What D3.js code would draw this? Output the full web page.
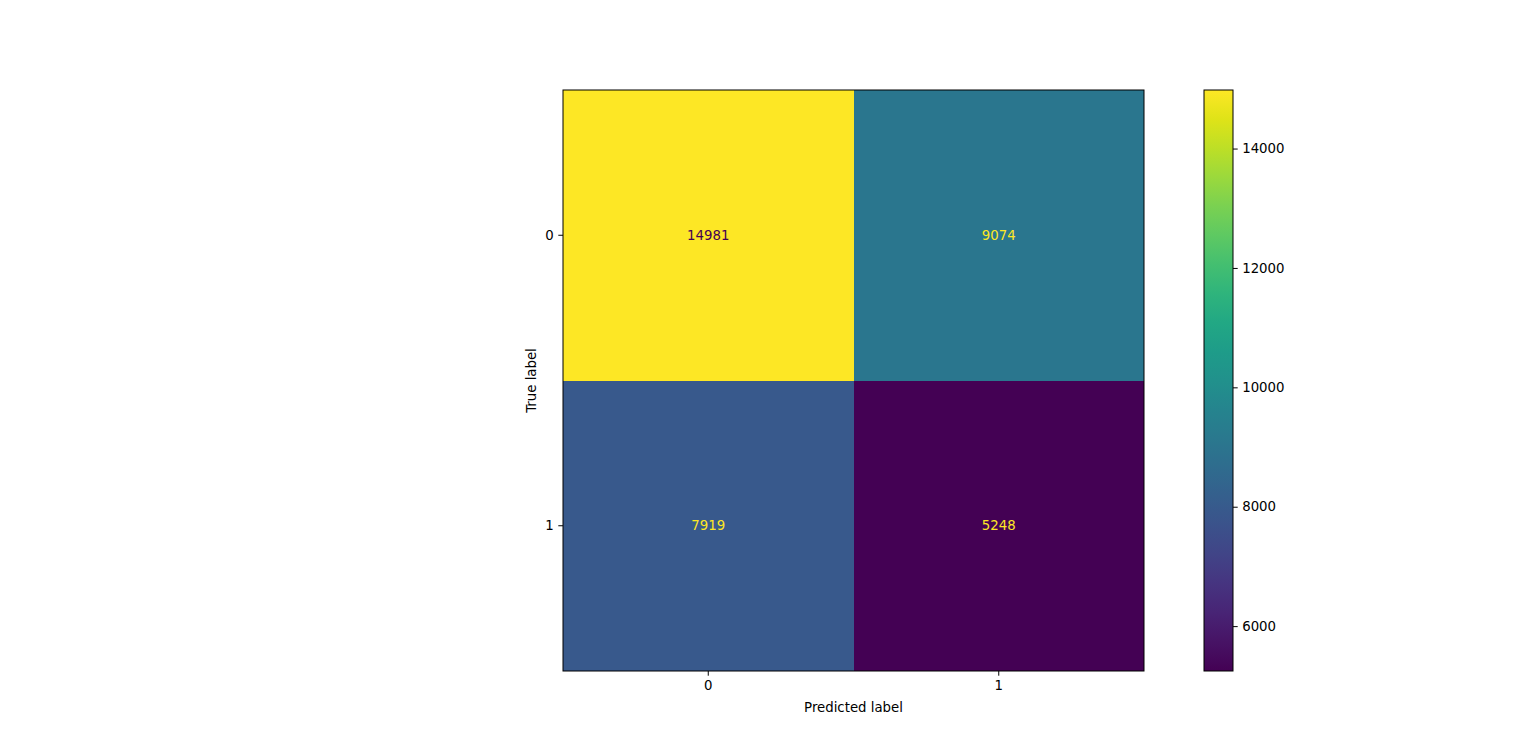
<!DOCTYPE html>
<html lang="en">
<head>
<meta charset="utf-8" />
<title>Confusion matrix</title>
<style>
  body, html { margin: 0; padding: 0; background: #ffffff; }
  text { font-family: "DejaVu Sans", sans-serif; font-size: 13.3px; fill: #000; }
  .axis path, .axis line { stroke: #000; stroke-width: 1; }
  .cell { shape-rendering: crispEdges; }
</style>
<script src="https://d3js.org/d3.v7.min.js"></script>
</head>
<body>
<svg width="1536" height="754"></svg>
<script>
// data
var labels = ["0", "1"];
var matrix = [
  [14981, 9074],
  [7919, 5248]
];
var cbTicks = [6000, 8000, 10000, 12000, 14000];

var svg = d3.select("svg");

// plot area (note: "top" clashes with window.top, so use plotTop)
var plotLeft = 563, plotTop = 90, size = 581;
var cbLeft = 1204, cbWidth = 29;

var x = d3.scaleBand().domain(labels).range([plotLeft, plotLeft + size]);
var y = d3.scaleBand().domain(labels).range([plotTop, plotTop + size]);

var flat = [];
matrix.forEach(function(row, i) {
  row.forEach(function(v, j) { flat.push({ r: labels[i], c: labels[j], v: v }); });
});
var vmin = d3.min(flat, function(d) { return d.v; });
var vmax = d3.max(flat, function(d) { return d.v; });
var color = d3.scaleSequential(d3.interpolateViridis).domain([vmin, vmax]);
var mid = (vmin + vmax) / 2;

svg.selectAll(".cell")
  .data(flat)
  .enter().append("rect")
  .attr("class", "cell")
  .attr("x", function(d) { return x(d.c); })
  .attr("y", function(d) { return y(d.r); })
  .attr("width", x.bandwidth())
  .attr("height", y.bandwidth())
  .attr("fill", function(d) { return color(d.v); });

svg.selectAll(".val")
  .data(flat)
  .enter().append("text")
  .attr("class", "val")
  .attr("x", function(d) { return x(d.c) + x.bandwidth() / 2; })
  .attr("y", function(d) { return y(d.r) + y.bandwidth() / 2; })
  .attr("text-anchor", "middle")
  .attr("dy", "0.35em")
  .style("fill", function(d) { return d.v < mid ? d3.interpolateViridis(1) : d3.interpolateViridis(0); })
  .text(function(d) { return d.v; });

svg.append("rect")
  .attr("x", plotLeft).attr("y", plotTop)
  .attr("width", size).attr("height", size)
  .attr("fill", "none").attr("stroke", "#000").attr("stroke-width", 1);

// axes
var xAxis = svg.append("g").attr("class", "axis")
  .attr("transform", "translate(0," + (plotTop + size) + ")")
  .call(d3.axisBottom(x).tickSize(4.7).tickPadding(4.5));
xAxis.select(".domain").remove();
xAxis.selectAll("text").style("font-size", "13.3px").style("font-family", "DejaVu Sans");

var yAxis = svg.append("g").attr("class", "axis")
  .attr("transform", "translate(" + plotLeft + ",0)")
  .call(d3.axisLeft(y).tickSize(4.7).tickPadding(4.5));
yAxis.select(".domain").remove();
yAxis.selectAll("text").style("font-size", "13.3px").style("font-family", "DejaVu Sans");

svg.append("text")
  .attr("x", plotLeft + size / 2).attr("y", 712)
  .attr("text-anchor", "middle")
  .text("Predicted label");

svg.append("text")
  .attr("transform", "translate(536," + (plotTop + size / 2) + ") rotate(-90)")
  .attr("text-anchor", "middle")
  .text("True label");

// colorbar
var cb = d3.scaleLinear().domain([vmin, vmax]).range([plotTop + size, plotTop]);
var defs = svg.append("defs");
var grad = defs.append("linearGradient").attr("id", "cbg")
  .attr("x1", "0").attr("y1", "1").attr("x2", "0").attr("y2", "0");
d3.range(0, 1.0001, 0.05).forEach(function(t) {
  grad.append("stop").attr("offset", t).attr("stop-color", d3.interpolateViridis(t));
});
svg.append("rect")
  .attr("x", cbLeft).attr("y", plotTop)
  .attr("width", cbWidth).attr("height", size)
  .attr("fill", "url(#cbg)")
  .attr("stroke", "#000").attr("stroke-width", 1);

var cbAxis = svg.append("g").attr("class", "axis")
  .attr("transform", "translate(" + (cbLeft + cbWidth) + ",0)")
  .call(d3.axisRight(cb).tickValues(cbTicks).tickSize(4.7).tickPadding(4.5).tickFormat(d3.format("d")));
cbAxis.select(".domain").remove();
cbAxis.selectAll("text").style("font-size", "13.3px").style("font-family", "DejaVu Sans");
</script>
</body>
</html>
